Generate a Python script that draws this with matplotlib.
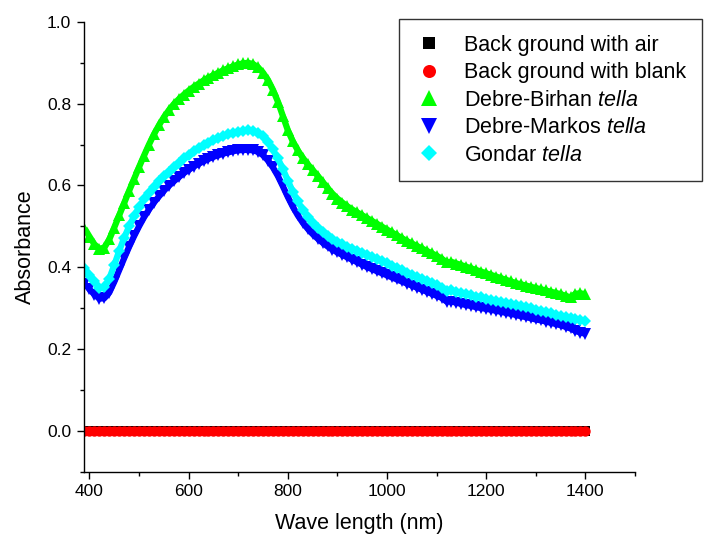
import matplotlib
matplotlib.use("Agg")
import matplotlib.pyplot as plt

plt.rcParams['font.family'] = ['Liberation Sans', 'DejaVu Sans']
plt.rcParams['mathtext.fontset'] = 'custom'
plt.rcParams['mathtext.it'] = 'Liberation Sans:italic'
plt.rcParams['mathtext.rm'] = 'Liberation Sans'

# wavelength grid (nm), one reading every 10 nm
wavelength = list(range(390, 1401, 10))

air = [
    0.000, 0.000, 0.000, 0.000, 0.000, 0.000, 0.000, 0.000, 0.000, 0.000,
    0.000, 0.000, 0.000, 0.000, 0.000, 0.000, 0.000, 0.000, 0.000, 0.000,
    0.000, 0.000, 0.000, 0.000, 0.000, 0.000, 0.000, 0.000, 0.000, 0.000,
    0.000, 0.000, 0.000, 0.000, 0.000, 0.000, 0.000, 0.000, 0.000, 0.000,
    0.000, 0.000, 0.000, 0.000, 0.000, 0.000, 0.000, 0.000, 0.000, 0.000,
    0.000, 0.000, 0.000, 0.000, 0.000, 0.000, 0.000, 0.000, 0.000, 0.000,
    0.000, 0.000, 0.000, 0.000, 0.000, 0.000, 0.000, 0.000, 0.000, 0.000,
    0.000, 0.000, 0.000, 0.000, 0.000, 0.000, 0.000, 0.000, 0.000, 0.000,
    0.000, 0.000, 0.000, 0.000, 0.000, 0.000, 0.000, 0.000, 0.000, 0.000,
    0.000, 0.000, 0.000, -0.001, -0.001, -0.001, -0.001, -0.002, -0.002, -0.002,
    -0.002, -0.002]

blank = [
    0.000, 0.000, 0.000, 0.000, 0.000, 0.000, 0.000, 0.000, 0.000, 0.000,
    0.000, 0.000, 0.000, 0.000, 0.000, 0.000, 0.000, 0.000, 0.000, 0.000,
    0.000, 0.000, 0.000, 0.000, 0.000, 0.000, 0.000, 0.000, 0.000, 0.000,
    0.000, 0.000, 0.000, 0.000, 0.000, 0.000, 0.000, 0.000, 0.000, 0.000,
    0.000, 0.000, 0.000, 0.000, 0.000, 0.000, 0.000, 0.000, 0.000, 0.000,
    0.000, 0.000, 0.000, 0.000, 0.000, 0.000, 0.000, 0.000, 0.000, 0.000,
    0.000, 0.000, 0.000, 0.000, 0.000, 0.000, 0.000, 0.000, 0.000, 0.000,
    0.000, 0.000, 0.000, 0.000, 0.000, 0.000, 0.000, 0.000, 0.000, 0.000,
    0.000, 0.000, 0.000, 0.000, 0.000, 0.000, 0.000, 0.000, 0.000, 0.000,
    0.000, 0.000, 0.000, 0.000, 0.000, 0.000, 0.000, 0.000, 0.000, 0.000,
    0.000, 0.000]

debre_birhan = [
    0.495, 0.475, 0.456, 0.445, 0.448, 0.468, 0.497, 0.527, 0.557, 0.587,
    0.616, 0.645, 0.673, 0.700, 0.725, 0.747, 0.767, 0.784, 0.799, 0.811,
    0.822, 0.832, 0.841, 0.849, 0.857, 0.864, 0.870, 0.876, 0.882, 0.887,
    0.892, 0.896, 0.899, 0.900, 0.897, 0.889, 0.876, 0.858, 0.834, 0.805,
    0.770, 0.735, 0.708, 0.686, 0.668, 0.652, 0.638, 0.624, 0.609, 0.594,
    0.580, 0.568, 0.558, 0.549, 0.541, 0.534, 0.527, 0.520, 0.513, 0.506,
    0.499, 0.492, 0.485, 0.478, 0.471, 0.464, 0.458, 0.452, 0.446, 0.440,
    0.434, 0.428, 0.421, 0.412, 0.413, 0.409, 0.405, 0.401, 0.397, 0.393,
    0.389, 0.385, 0.381, 0.377, 0.373, 0.369, 0.365, 0.361, 0.358, 0.355,
    0.352, 0.349, 0.346, 0.343, 0.340, 0.337, 0.334, 0.330, 0.326, 0.335,
    0.336, 0.334]

debre_markos = [
    0.360, 0.346, 0.333, 0.323, 0.324, 0.338, 0.364, 0.393, 0.422, 0.450,
    0.476, 0.500, 0.522, 0.541, 0.558, 0.573, 0.587, 0.599, 0.610, 0.620,
    0.630, 0.638, 0.646, 0.653, 0.659, 0.665, 0.670, 0.674, 0.678, 0.681,
    0.684, 0.686, 0.687, 0.687, 0.686, 0.682, 0.674, 0.661, 0.644, 0.623,
    0.598, 0.572, 0.548, 0.527, 0.509, 0.494, 0.481, 0.470, 0.460, 0.451,
    0.443, 0.436, 0.430, 0.424, 0.418, 0.412, 0.406, 0.400, 0.395, 0.390,
    0.385, 0.380, 0.375, 0.370, 0.365, 0.360, 0.355, 0.350, 0.345, 0.340,
    0.335, 0.330, 0.325, 0.316, 0.316, 0.313, 0.310, 0.307, 0.305, 0.302,
    0.300, 0.298, 0.296, 0.293, 0.291, 0.288, 0.286, 0.283, 0.280, 0.278,
    0.275, 0.272, 0.270, 0.267, 0.264, 0.261, 0.258, 0.254, 0.250, 0.244,
    0.240, 0.237]

gondar = [
    0.397, 0.382, 0.365, 0.350, 0.352, 0.372, 0.405, 0.440, 0.472, 0.500,
    0.525, 0.547, 0.566, 0.582, 0.597, 0.610, 0.622, 0.634, 0.645, 0.656,
    0.666, 0.675, 0.684, 0.692, 0.699, 0.705, 0.711, 0.716, 0.721, 0.725,
    0.729, 0.732, 0.734, 0.735, 0.733, 0.729, 0.720, 0.706, 0.688, 0.666,
    0.640, 0.612, 0.585, 0.561, 0.541, 0.524, 0.509, 0.496, 0.486, 0.477,
    0.469, 0.462, 0.456, 0.450, 0.445, 0.440, 0.435, 0.430, 0.425, 0.420,
    0.415, 0.410, 0.404, 0.398, 0.392, 0.386, 0.381, 0.376, 0.371, 0.366,
    0.361, 0.356, 0.350, 0.342, 0.343, 0.340, 0.337, 0.334, 0.331, 0.328,
    0.326, 0.323, 0.320, 0.318, 0.315, 0.312, 0.310, 0.307, 0.304, 0.302,
    0.299, 0.296, 0.293, 0.290, 0.287, 0.284, 0.281, 0.278, 0.276, 0.274,
    0.271, 0.268]

series = [
    (air, 'Back ground with air', 's', '#000000', 7.0),
    (blank, 'Back ground with blank', 'o', '#ff0000', 7.5),
    (debre_birhan, r'Debre-Birhan $\mathit{tella}$', '^', '#00ff00', 9.0),
    (debre_markos, r'Debre-Markos $\mathit{tella}$', 'v', '#0000ff', 9.0),
    (gondar, r'Gondar $\mathit{tella}$', 'D', '#00ffff', 6.3),
]

fig = plt.figure(figsize=(7.07, 5.40), dpi=100)
ax = fig.add_axes([83.5 / 707, 68.5 / 540, (635 - 83.5) / 707, (518 - 68.5) / 540])

for vals, lab, mk, col, ms in series:
    # dense scan: the markers overlap into a solid band
    ax.plot(wavelength, vals, linestyle='-', linewidth=4.5, color=col,
            solid_capstyle='butt', solid_joinstyle='round')
    ax.plot(wavelength, vals, linestyle='none', marker=mk, markersize=ms,
            color=col, markeredgewidth=0, label=lab)

ax.set_xlim(388, 1500)
ax.set_ylim(-0.1, 1.0)
ax.set_xticks([400, 600, 800, 1000, 1200, 1400])
ax.set_xticks([500, 700, 900, 1100, 1300, 1500], minor=True)
ax.set_yticks([0.0, 0.2, 0.4, 0.6, 0.8, 1.0])
ax.set_yticks([-0.1, 0.1, 0.3, 0.5, 0.7, 0.9], minor=True)
ax.set_yticklabels(['0.0', '0.2', '0.4', '0.6', '0.8', '1.0'])

ax.spines['top'].set_visible(False)
ax.spines['right'].set_visible(False)
for s in ['left', 'bottom']:
    ax.spines[s].set_linewidth(1.0)
ax.tick_params(which='major', direction='out', length=5, width=1.0, labelsize=12.5, pad=4)
ax.tick_params(which='minor', direction='out', length=3, width=1.0)

ax.set_xlabel('Wave length (nm)', fontsize=15.5, labelpad=10)
ax.set_ylabel('Absorbance', fontsize=15.5, labelpad=8)

leg = ax.legend(loc='upper left', bbox_to_anchor=(398.5 / 707, 1 - 19.3 / 540),
                bbox_transform=fig.transFigure, borderaxespad=0,
                fontsize=15.5, frameon=True, fancybox=False, framealpha=1,
                edgecolor='#333333', handlelength=1.4, handletextpad=0.93,
                labelspacing=0.3, borderpad=0.72, markerscale=1.25)
leg.get_frame().set_linewidth(1.0)

fig.savefig('out.png', dpi=100)
